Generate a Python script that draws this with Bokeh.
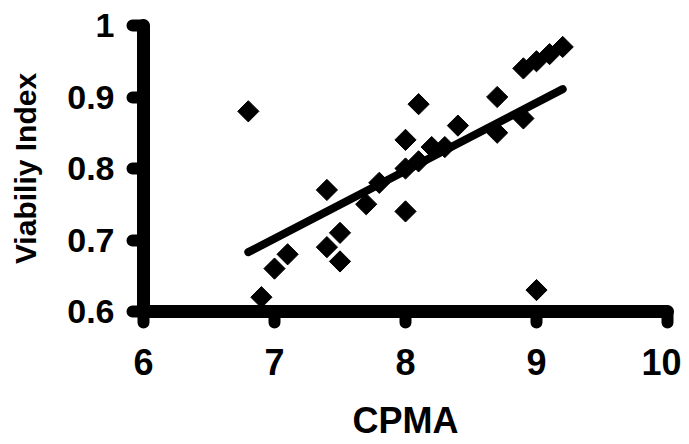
from bokeh.plotting import figure
from bokeh.embed import file_html
from bokeh.resources import INLINE
from bokeh.models import Range1d, FixedTicker
import math

# Data
cpma = [6.8, 6.9, 7.0, 7.1, 7.4, 7.4, 7.5, 7.5, 7.7, 7.8, 8.0, 8.0, 8.0,
        8.1, 8.1, 8.2, 8.3, 8.4, 8.7, 8.7, 8.9, 8.9, 9.0, 9.0, 9.1, 9.2]
viability = [0.88, 0.62, 0.66, 0.68, 0.77, 0.69, 0.71, 0.67, 0.75, 0.78, 0.84, 0.80, 0.74,
             0.89, 0.81, 0.83, 0.83, 0.86, 0.90, 0.85, 0.87, 0.94, 0.95, 0.63, 0.96, 0.97]
fit_x = [6.8, 9.2]
fit_y = [0.683, 0.911]
x_ticks = [6, 7, 8, 9, 10]
y_ticks = [0.6, 0.7, 0.8, 0.9, 1.0]
y_tick_labels = {0.6: "0.6", 0.7: "0.7", 0.8: "0.8", 0.9: "0.9", 1.0: "1"}

FONT = "Liberation Sans"

p = figure(width=681, height=444, output_backend="svg", toolbar_location=None,
           x_range=Range1d(6, 10), y_range=Range1d(0.6, 1.0),
           min_border_left=143, min_border_right=14, min_border_top=25, min_border_bottom=133)
p.outline_line_color = None
p.grid.visible = False
p.background_fill_color = "white"
p.border_fill_color = "white"

p.line(fit_x, fit_y, line_color="black", line_width=8, line_cap="round")
p.scatter(cpma, viability, marker="square", size=15, angle=math.pi / 4,
          fill_color="black", line_color="black")

for ax in (p.xaxis[0], p.yaxis[0]):
    ax.axis_line_width = 13
    ax.axis_line_cap = "round"
    ax.axis_line_color = "black"
    ax.major_tick_line_width = 12
    ax.major_tick_line_cap = "round"
    ax.major_tick_in = 0
    ax.major_tick_out = 11
    ax.minor_tick_line_color = None
    ax.major_label_text_font = FONT
    ax.major_label_text_font_style = "bold"
    ax.major_label_text_color = "black"
    ax.axis_label_text_font = FONT
    ax.axis_label_text_font_style = "bold"
    ax.axis_label_text_color = "black"

p.xaxis.ticker = FixedTicker(ticks=x_ticks)
p.yaxis.ticker = FixedTicker(ticks=y_ticks)
p.yaxis.major_label_overrides = y_tick_labels
p.xaxis.major_label_text_font_size = "36px"
p.yaxis.major_label_text_font_size = "34px"
p.xaxis.major_label_standoff = 26
p.yaxis.major_label_standoff = 18
p.xaxis.axis_label = "CPMA"
p.yaxis.axis_label = "Viabiliy Index"
p.xaxis.axis_label_text_font_size = "36px"
p.yaxis.axis_label_text_font_size = "30px"
p.xaxis.axis_label_standoff = 22
p.yaxis.axis_label_standoff = 22

open("out.html", "w").write(file_html(p, INLINE))
